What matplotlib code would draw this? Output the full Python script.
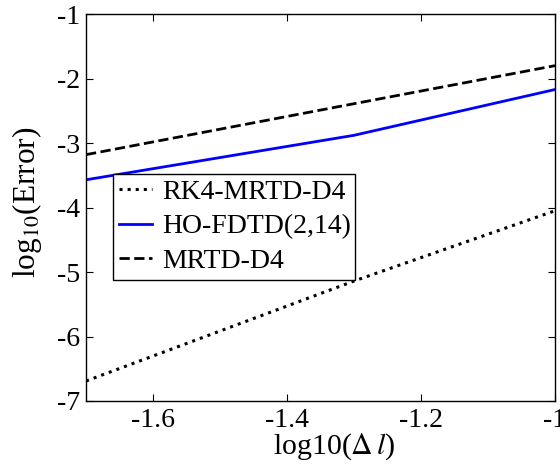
import matplotlib
matplotlib.use('Agg')
import matplotlib.pyplot as plt

plt.rcParams['font.family'] = ['Liberation Serif', 'DejaVu Serif']
plt.rcParams['mathtext.fontset'] = 'stix'

# data
x = [-1.7, -1.3, -1.0]
rk4_mrtd = [-6.69, -5.14, -4.05]
ho_fdtd = [-3.57, -2.88, -2.17]
mrtd = [-3.18, -2.39, -1.80]

xticks = [-1.6, -1.4, -1.2, -1.0]
xticklabels = ['-1.6', '-1.4', '-1.2', '-1']
yticks = [-7, -6, -5, -4, -3, -2, -1]

fig = plt.figure(figsize=(5.6, 4.69), dpi=100)
ax = fig.add_axes([0.1536, 0.145, 0.8375, 0.825])

ax.plot(x, rk4_mrtd, 'k:', lw=2.2, label='RK4-MRTD-D4')
ax.plot(x, ho_fdtd, color='#0000ff', ls='-', lw=2, label='HO-FDTD(2,14)')
ax.plot(x, mrtd, 'k--', lw=2, label='MRTD-D4')

ax.set_xlim(-1.7, -1.0)
ax.set_ylim(-7, -1)
ax.set_xticks(xticks)
ax.set_xticklabels(xticklabels)
ax.set_yticks(yticks)
ax.set_yticklabels([str(v) for v in yticks])
ax.tick_params(direction='in', top=True, right=True, labelsize=20, length=5, pad=4)
ax.tick_params(axis='x', pad=5)
for sp in ax.spines.values():
    sp.set_linewidth(1.0)

ax.set_xlabel(r'log10($\Delta\,l$)', fontsize=21.5)
ax.xaxis.set_label_coords(0.529, -0.117)
ax.xaxis.label.set_va('center')
ax.set_ylabel(r'log$_{10}$(Error)', fontsize=22.5)
ax.yaxis.set_label_coords(-0.126, 0.512)
ax.yaxis.label.set_va('center')

leg = ax.legend(loc='lower left', bbox_to_anchor=(0.057, 0.3127, 0.517, 0.2), mode='expand',
                fontsize=20, frameon=True, fancybox=False, edgecolor='black', framealpha=1,
                handlelength=1.2, borderpad=0.21, labelspacing=0.33, handletextpad=0.38,
                borderaxespad=0)
leg.get_frame().set_linewidth(1.0)

fig.savefig('out.png', dpi=100)
